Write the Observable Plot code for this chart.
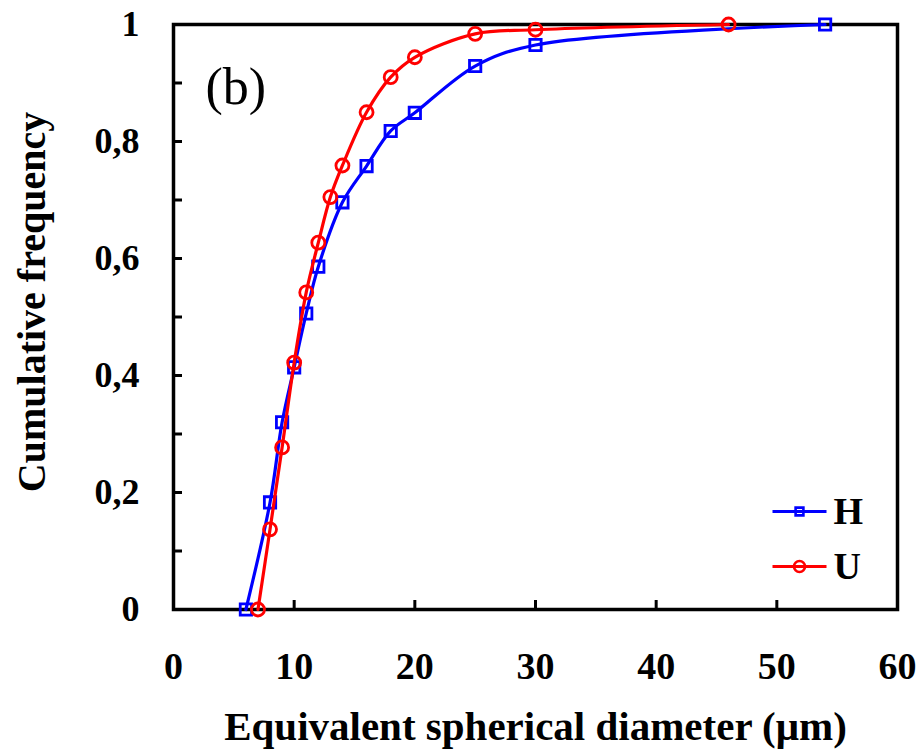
<!DOCTYPE html>
<html><head><meta charset="utf-8">
<script src="https://cdn.jsdelivr.net/npm/d3@7"></script>
<script src="https://cdn.jsdelivr.net/npm/@observablehq/plot@0.6"></script>
<style>body{margin:0;background:#fff}</style>
</head><body><div id="chart"></div>
<script>
const seriesNames = ["H", "U"];
const seriesColors = ["#0000ff", "#ff0000"];
const hDiameter = [6, 8, 9, 10, 11, 12, 14, 16, 18, 20, 25, 30, 54];
const hFreq = [0, 0.183, 0.320, 0.414, 0.506, 0.586, 0.696, 0.758, 0.818, 0.849, 0.929, 0.965, 1.0];
const uDiameter = [7, 8, 9, 10, 11, 12, 13, 14, 16, 18, 20, 25, 30, 46];
const uFreq = [0, 0.137, 0.277, 0.422, 0.542, 0.627, 0.705, 0.759, 0.850, 0.910, 0.944, 0.984, 0.991, 1.0];
const xTicks = [0, 10, 20, 30, 40, 50, 60];
const yTicks = [0, 0.1, 0.2, 0.3, 0.4, 0.5, 0.6, 0.7, 0.8, 0.9, 1];
const yLabelTicks = [0, 0.2, 0.4, 0.6, 0.8, 1];
const yTickLabels = ["0", "0,2", "0,4", "0,6", "0,8", "1"];
const xTitle = "Equivalent spherical diameter (μm)";
const yTitle = "Cumulative frequency";
const panelLabel = "(b)";

const hRows = hDiameter.map((x, i) => ({series: "H", x, y: hFreq[i]}));
const uRows = uDiameter.map((x, i) => ({series: "U", x, y: uFreq[i]}));

const lineSymbol = {draw(ctx) { ctx.moveTo(-27, 0); ctx.lineTo(27, 0); }};
const markerSymbol = {H: "square", U: "circle"};
const markerR = {H: 6.4, U: 6.5};

function seriesMarks(rows, name, color) {
  return [
    Plot.line(rows, {x: "x", y: "y", stroke: color, strokeWidth: 3.2, curve: "catmull-rom"}),
    Plot.dot(rows, {x: "x", y: "y", symbol: markerSymbol[name], r: markerR[name], stroke: color, fill: "none", strokeWidth: 2.8})
  ];
}

function legendMarks(name, color, dy) {
  return [
    Plot.dot([name], {frameAnchor: "bottom-right", dx: -98, dy, symbol: lineSymbol, r: 5, stroke: color, strokeWidth: 3.2, fill: "none"}),
    Plot.dot([name], {frameAnchor: "bottom-right", dx: -98, dy, symbol: markerSymbol[name], r: name === "H" ? 4.4 : 5.5, stroke: color, strokeWidth: 2.6, fill: "none"}),
    Plot.text([name], {frameAnchor: "bottom-right", dx: -64, dy, text: d => d, textAnchor: "start", lineAnchor: "middle", fontSize: 38, fontWeight: "bold", fill: "#000"})
  ];
}

const chart = Plot.plot({
  width: 921,
  height: 754,
  marginLeft: 173,
  marginRight: 24,
  marginTop: 24,
  marginBottom: 145,
  style: {fontFamily: "'Liberation Serif', 'Times New Roman', serif", background: "#fff", color: "#000"},
  x: {domain: [0, 60]},
  y: {domain: [0, 1]},
  marks: [
    Plot.axisX({ticks: xTicks, tickSize: 9, dy: -9, tickFormat: () => "", strokeWidth: 3, label: null}),
    Plot.axisX({ticks: xTicks, tickSize: 0, tickPadding: 43, fontSize: 38, fontWeight: "bold", label: null}),
    Plot.axisY({ticks: yTicks, tickSize: 9, dx: 9, tickFormat: () => "", strokeWidth: 3, label: null}),
    Plot.axisY({ticks: yLabelTicks, tickSize: 0, tickPadding: 34, tickFormat: d => yTickLabels[yLabelTicks.indexOf(d)], fontSize: 36, fontWeight: "bold", label: null}),
    Plot.frame({stroke: "#000", strokeWidth: 3.5}),
    ...seriesMarks(hRows, "H", seriesColors[0]),
    ...seriesMarks(uRows, "U", seriesColors[1]),
    ...legendMarks(seriesNames[0], seriesColors[0], -98),
    ...legendMarks(seriesNames[1], seriesColors[1], -43),
    Plot.text([panelLabel], {frameAnchor: "top-left", dx: 32, dy: 63, text: d => d, textAnchor: "start", lineAnchor: "middle", fontSize: 52, fill: "#000"}),
    Plot.text([xTitle], {frameAnchor: "bottom", dy: 117, text: d => d, textAnchor: "middle", lineAnchor: "middle", fontSize: 41, fontWeight: "bold", fill: "#000"}),
    Plot.text([yTitle], {frameAnchor: "left", dx: -141, dy: -15, rotate: -90, text: d => d, textAnchor: "middle", lineAnchor: "middle", fontSize: 40, fontWeight: "bold", fill: "#000"})
  ]
});
document.getElementById("chart").appendChild(chart);
</script>
</body></html>
